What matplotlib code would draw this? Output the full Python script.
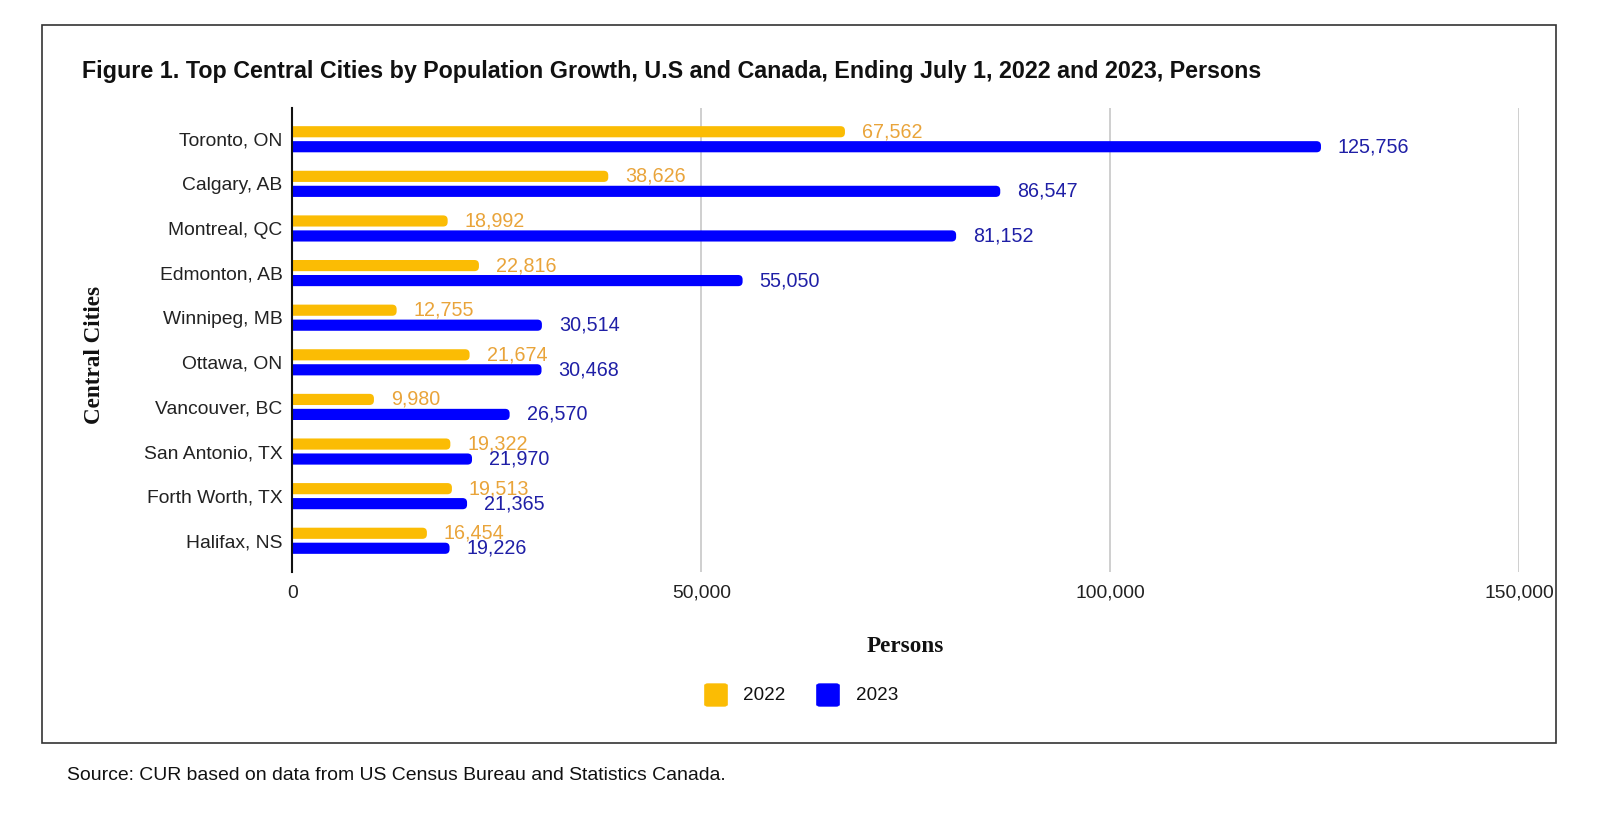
import matplotlib
matplotlib.use("Agg")
import matplotlib.pyplot as plt
from matplotlib.patches import Rectangle, FancyBboxPatch
import numpy as np

cities = ["Toronto, ON", "Calgary, AB", "Montreal, QC", "Edmonton, AB", "Winnipeg, MB",
          "Ottawa, ON", "Vancouver, BC", "San Antonio, TX", "Forth Worth, TX", "Halifax, NS"]
growth_2022 = [67562, 38626, 18992, 22816, 12755, 21674, 9980, 19322, 19513, 16454]
growth_2023 = [125756, 86547, 81152, 55050, 30514, 30468, 26570, 21970, 21365, 19226]
series_names = ["2022", "2023"]
x_ticks = [0, 50000, 100000, 150000]

W, H = 1600, 818
fig = plt.figure(figsize=(W / 100, H / 100), dpi=100)
plt.rcParams['font.family'] = ['Liberation Sans', 'DejaVu Sans']

YEL = "#FBBC04"
BLU = "#0000FF"
YEL_LBL = "#E9A43A"
BLU_LBL = "#1F1FA6"

def fx(px):
    return px / W

def fy(py):
    return 1 - py / H

ax = fig.add_axes([fx(292.3), fy(572), fx(1519.3) - fx(292.3), fy(108) - fy(572)])
ax.set_xlim(0, 150000)
ax.set_ylim(len(cities) - 1 + 0.7, -0.7)

px_per_x = (1519.3 - 292.3) / 150000
px_per_y = (572 - 108) / (len(cities) - 1 + 1.4)

y = np.arange(len(cities))
off = 0.168
hbar = 0.25

bars_a = ax.barh(y - off, growth_2022, height=hbar, color=YEL, zorder=3)
bars_b = ax.barh(y + off, growth_2023, height=hbar, color=BLU, zorder=3)

# round the bar ends (like the reference), keep the left end flush with the axis
rad_px = 4.5
rx = rad_px / px_per_x
ry = rad_px / px_per_y
for bars, col in [(bars_a, YEL), (bars_b, BLU)]:
    for rect in bars.patches:
        x0, y0 = rect.get_x(), rect.get_y()
        w, h = rect.get_width(), rect.get_height()
        rect.set_visible(False)
        fb = FancyBboxPatch((x0 - rx, y0), w + rx, h,
                            boxstyle=f"round,pad=0,rounding_size={rx}",
                            mutation_aspect=ry / rx,
                            facecolor=col, edgecolor='none', zorder=3)
        ax.add_patch(fb)

# value labels
gap = 17 / px_per_x
for yi, v in zip(y, growth_2022):
    ax.text(v + gap, yi - off, f"{v:,}", color=YEL_LBL, fontsize=14.2,
            va='center', ha='left', zorder=4)
for yi, v in zip(y, growth_2023):
    ax.text(v + gap, yi + off, f"{v:,}", color=BLU_LBL, fontsize=14.2,
            va='center', ha='left', zorder=4)

ax.set_yticks(y)
ax.set_yticklabels(cities, fontsize=13.9, color="#222222")
ax.set_xticks(x_ticks)
ax.set_xticklabels([f"{t:,}" for t in x_ticks], fontsize=13.9, color="#222222")
ax.tick_params(axis='y', length=0, pad=7)
ax.tick_params(axis='x', length=0, pad=9)

ax.grid(axis='x', color="#CCCCCC", linewidth=1.3, zorder=0)
ax.grid(axis='y', visible=False)
for s in ["top", "right", "bottom"]:
    ax.spines[s].set_visible(False)
ax.spines["left"].set_color("#111111")
ax.spines["left"].set_linewidth(1.5)
ax.spines["left"].set_zorder(5)

# title
title = fig.text(fx(81.6), fy(71.7), "Figure 1. Top Central Cities by Population Growth, U.S and Canada, Ending July 1, 2022 and 2023, Persons",
                 fontsize=15, fontweight='bold', color="#111111", va='center', ha='left')
fig.canvas.draw()
r = fig.canvas.get_renderer()
wt = title.get_window_extent(r).width
title.set_fontsize(15 * (1262 - 81.6) / wt)

# axis labels
fig.text(fx(95), fy(355), "Central Cities", rotation=90, fontsize=16.7, fontweight='bold',
         family=['Liberation Serif', 'DejaVu Serif'], va='center', ha='center', color="#111111")
fig.text(fx(905), fy(646), "Persons", fontsize=16.7, fontweight='bold',
         family=['Liberation Serif', 'DejaVu Serif'], va='center', ha='center', color="#111111")

# legend
for (sx, tx, col, name) in [(705, 743, YEL, series_names[0]), (817, 856, BLU, series_names[1])]:
    p = FancyBboxPatch((fx(sx + 2), fy(705)), fx(18), fy(685) - fy(705),
                       boxstyle="round,pad=0.0015,rounding_size=0.002",
                       transform=fig.transFigure, facecolor=col, edgecolor=col, linewidth=0.5)
    fig.patches.append(p)
    fig.text(fx(tx), fy(695), name, fontsize=13.6, va='center', ha='left', color="#111111")

# outer box
box = Rectangle((fx(42), fy(743)), fx(1556) - fx(42), fy(24.5) - fy(743),
                transform=fig.transFigure, fill=False, edgecolor="#333333", linewidth=1.2)
fig.patches.append(box)

# source
src = fig.text(fx(67), fy(775), "Source: CUR based on data from US Census Bureau and Statistics Canada.",
               fontsize=13, va='center', ha='left', color="#111111")
fig.canvas.draw()
ws = src.get_window_extent(r).width
src.set_fontsize(13 * (720 - 67) / ws)

fig.savefig("out.png", dpi=100, facecolor="white")
